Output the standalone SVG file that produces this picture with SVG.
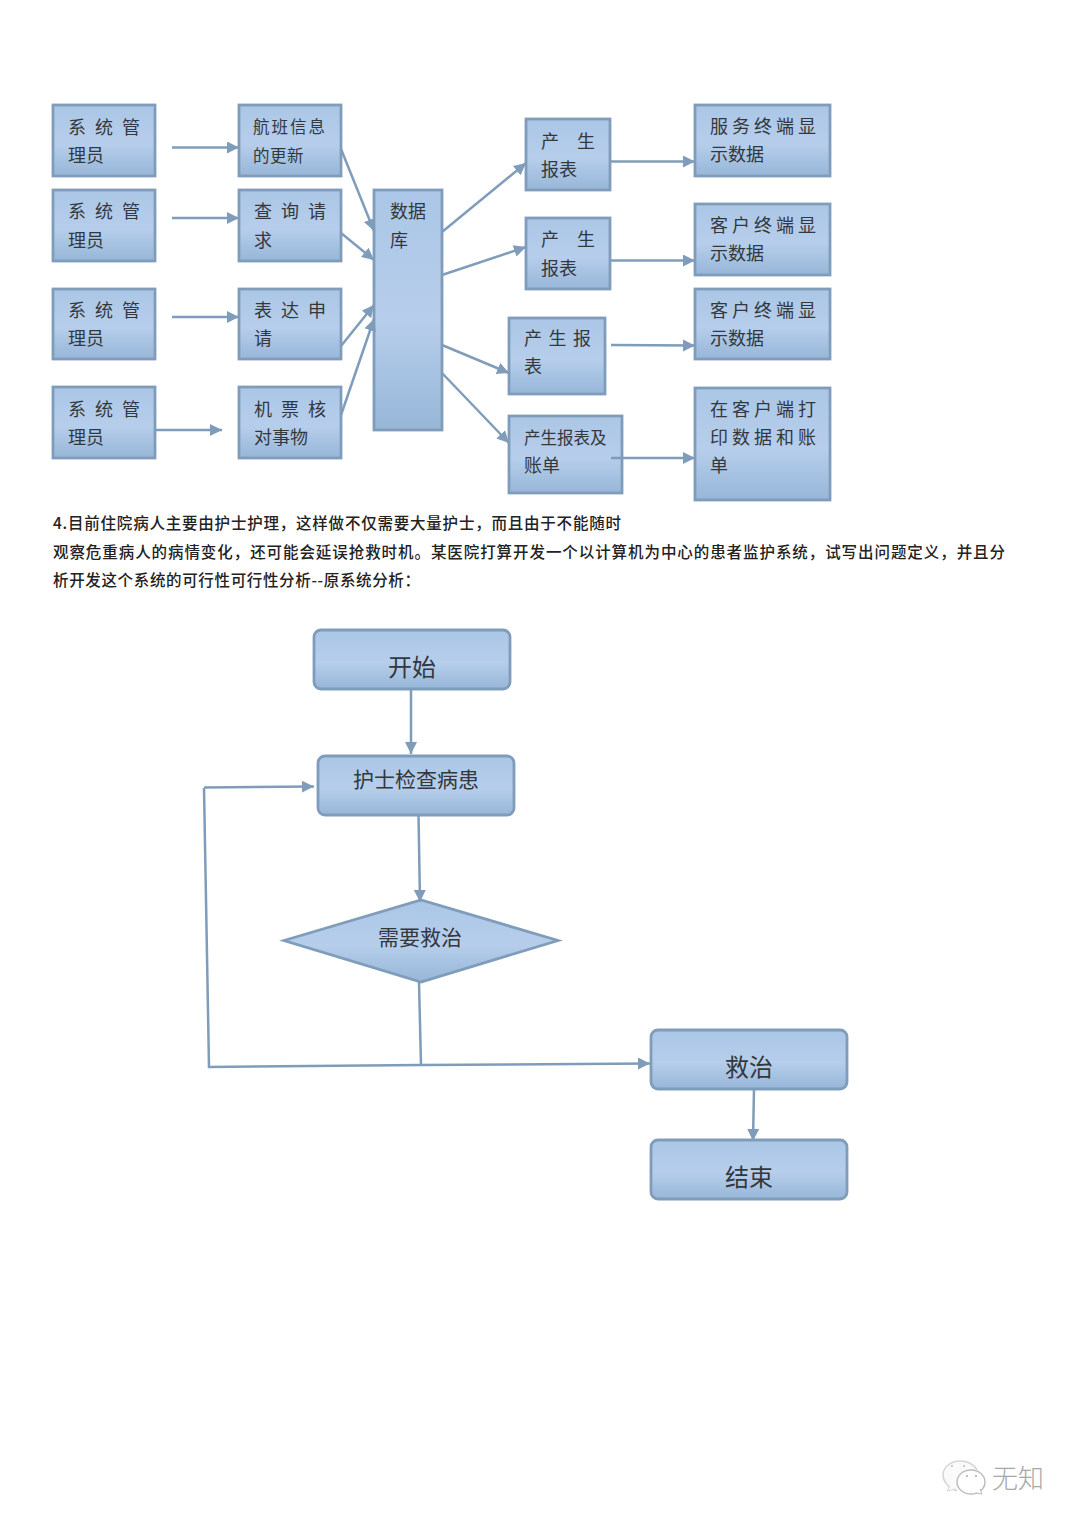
<svg xmlns="http://www.w3.org/2000/svg" width="1080" height="1526" viewBox="0 0 1080 1526">
<style>
text{font-family:"Noto Sans CJK SC","Noto Sans CJK TC",sans-serif;fill:#33383e}
.n{fill:url(#g);stroke:#7f9dba;stroke-width:2.800}
.t{font-size:18px;font-weight:400}
.s{font-size:16.5px;font-weight:400}
.b{font-size:24px;font-weight:400}
.m{font-size:21px;font-weight:400}
.p{font-size:15.500px;font-weight:500;fill:#222}
.c{fill:none;stroke:#7f9dba;stroke-width:2.500}
.a{fill:none;stroke:#7f9dba;stroke-width:2.500;marker-end:url(#ar)}
</style>
<defs>
<linearGradient id="g" x1="0" y1="0" x2="0" y2="1"><stop offset="0" stop-color="#abc6e6"/><stop offset="0.55" stop-color="#b6ceeb"/><stop offset="1" stop-color="#97b6d8"/></linearGradient>
<marker id="ar" markerUnits="userSpaceOnUse" markerWidth="13" markerHeight="13" refX="12" refY="6" orient="auto"><path d="M0 0L12 6L0 12Z" fill="#7f9dba"/></marker>
</defs>
<rect width="1080" height="1526" fill="#fff"/>
<g id="n1"><rect class="n" x="53" y="105" width="102" height="71"/><text class="t" x="68" y="134" letter-spacing="9">系统管</text><text class="t" x="68" y="162">理员</text></g>
<g id="n2"><rect class="n" x="53" y="190" width="102" height="71"/><text class="t" x="68" y="218" letter-spacing="9">系统管</text><text class="t" x="68" y="247">理员</text></g>
<g id="n3"><rect class="n" x="53" y="289" width="102" height="70"/><text class="t" x="68" y="317" letter-spacing="9">系统管</text><text class="t" x="68" y="345">理员</text></g>
<g id="n4"><rect class="n" x="53" y="387" width="102" height="71"/><text class="t" x="68" y="416" letter-spacing="9">系统管</text><text class="t" x="68" y="444">理员</text></g>
<g id="n5"><rect class="n" x="239" y="105" width="102" height="71"/><text class="s" x="253" y="133" letter-spacing="2">航班信息</text><text class="s" x="253" y="162" letter-spacing="0.500">的更新</text></g>
<g id="n6"><rect class="n" x="239" y="190" width="102" height="71"/><text class="t" x="254" y="218" letter-spacing="9">查询请</text><text class="t" x="254" y="247">求</text></g>
<g id="n7"><rect class="n" x="239" y="289" width="102" height="70"/><text class="t" x="254" y="317" letter-spacing="9">表达申</text><text class="t" x="254" y="345">请</text></g>
<g id="n8"><rect class="n" x="239" y="387" width="102" height="71"/><text class="t" x="254" y="416" letter-spacing="9">机票核</text><text class="t" x="254" y="444">对事物</text></g>
<g id="n9"><rect class="n" x="374" y="190" width="68" height="240"/><text class="t" x="390" y="218">数据</text><text class="t" x="390" y="247">库</text></g>
<g id="n10"><rect class="n" x="526" y="119" width="84" height="71"/><text class="t" x="541" y="148" letter-spacing="18">产生</text><text class="t" x="541" y="176">报表</text></g>
<g id="n11"><rect class="n" x="526" y="218" width="84" height="71"/><text class="t" x="541" y="246" letter-spacing="18">产生</text><text class="t" x="541" y="275">报表</text></g>
<g id="n12"><rect class="n" x="509" y="318" width="96" height="76"/><text class="t" x="524" y="345" letter-spacing="6.500">产生报</text><text class="t" x="524" y="373">表</text></g>
<g id="n13"><rect class="n" x="509" y="416" width="113" height="77"/><text class="s" x="524" y="444">产生报表及</text><text class="t" x="524" y="472">账单</text></g>
<g id="n14"><rect class="n" x="695" y="105" width="135" height="71"/><text class="t" x="710" y="133" letter-spacing="4">服务终端显</text><text class="t" x="710" y="161">示数据</text></g>
<g id="n15"><rect class="n" x="695" y="204" width="135" height="71"/><text class="t" x="710" y="232" letter-spacing="4">客户终端显</text><text class="t" x="710" y="260">示数据</text></g>
<g id="n16"><rect class="n" x="695" y="289" width="135" height="70"/><text class="t" x="710" y="317" letter-spacing="4">客户终端显</text><text class="t" x="710" y="345">示数据</text></g>
<g id="n17"><rect class="n" x="695" y="388" width="135" height="112"/><text class="t" x="710" y="416" letter-spacing="4">在客户端打</text><text class="t" x="710" y="444" letter-spacing="4">印数据和账</text><text class="t" x="710" y="472">单</text></g>
<g id="para">
<text class="p" x="53" y="529" textLength="568" lengthAdjust="spacing">4.目前住院病人主要由护士护理，这样做不仅需要大量护士，而且由于不能随时</text>
<text class="p" x="53" y="558" textLength="952" lengthAdjust="spacing">观察危重病人的病情变化，还可能会延误抢救时机。某医院打算开发一个以计算机为中心的患者监护系统，试写出问题定义，并且分</text>
<text class="p" x="53" y="586" textLength="367" lengthAdjust="spacing">析开发这个系统的可行性可行性分析--原系统分析：</text>
</g>
<g id="f1"><rect class="n" x="314" y="630" width="196" height="59" rx="7"/><text class="b" x="412" y="676" text-anchor="middle">开始</text></g>
<g id="f2"><rect class="n" x="318" y="756" width="196" height="59" rx="7"/><text class="m" x="416" y="787" text-anchor="middle">护士检查病患</text></g>
<g id="f3"><path class="n" d="M284 940.500L421 900L558 940.500L421 982Z"/><text class="m" x="420" y="945" text-anchor="middle">需要救治</text></g>
<g id="f4"><rect class="n" x="651" y="1030" width="196" height="59" rx="7"/><text class="b" x="749" y="1076" text-anchor="middle">救治</text></g>
<g id="f5"><rect class="n" x="651" y="1140" width="196" height="59" rx="7"/><text class="b" x="749" y="1186" text-anchor="middle">结束</text></g>
<g id="connectors">
<path class="a" d="M172 147.500H239"/><path class="a" d="M172 218H239"/><path class="a" d="M172 317H239"/><path class="a" d="M156 430H222"/>
<path class="a" d="M341 149L374 231"/><path class="a" d="M341 233L374 260"/><path class="a" d="M341 346L374 305"/><path class="a" d="M341 415L374 319"/>
<path class="a" d="M442 232L526 163"/><path class="a" d="M442 275L526 247"/><path class="a" d="M442 345L509 373"/><path class="a" d="M442 373L509 443"/>
<path class="a" d="M610 161.500H695"/><path class="a" d="M610 260.500H695"/><path class="a" d="M611 345L695 345.500"/><path class="a" d="M611 458H695"/>
<path class="a" d="M411 689V754"/><path class="a" d="M418.500 815L420 902"/>
<path class="c" d="M419 982L421 1065"/>
<path class="c" d="M204 788L209 1067L421 1065"/>
<path class="a" d="M204 787.500L314 786.500"/>
<path class="a" d="M421 1065L650 1063.500"/>
<path class="a" d="M754 1089L753 1141"/>
</g>
<g id="watermark">
<path d="M957 1491C948 1488 943 1481 943 1475C943 1467 951 1461 960 1461C968 1461 974 1465 977 1470" fill="#fafafa" stroke="#d5d5d5" stroke-width="1.500"/>
<path d="M950 1486L947 1491L956 1489" fill="#fafafa" stroke="#d5d5d5" stroke-width="1"/>
<ellipse cx="971" cy="1482" rx="14" ry="12" fill="#fff" stroke="#bdbdbd" stroke-width="1.500"/>
<path d="M976 1493L982 1494L980 1489" fill="#fff" stroke="#bdbdbd" stroke-width="1"/>
<circle cx="952" cy="1466" r="1" fill="#bbb"/><circle cx="964" cy="1466" r="1" fill="#bbb"/><circle cx="967" cy="1476" r="1" fill="#aaa"/><circle cx="976" cy="1476" r="1" fill="#aaa"/>
<text x="992" y="1488" font-size="26" style="fill:#a8a8a8;font-weight:300">无知</text>
</g>
</svg>
